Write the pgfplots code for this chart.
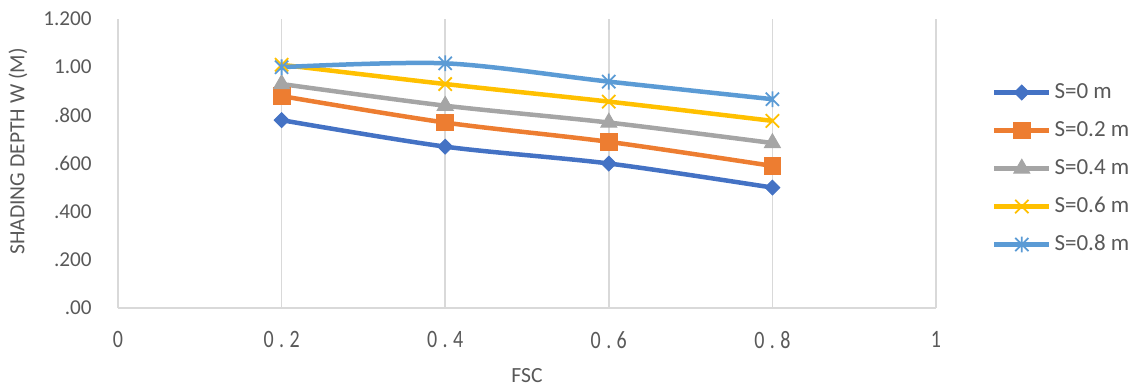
\documentclass[border=0pt]{standalone}
\usepackage{fontspec}
\setmainfont{Carlito}
\newfontfamily\condfont[FakeStretch=0.8]{Carlito}
\usepackage{pgfplots}
\pgfplotsset{compat=1.18}
\definecolor{txt}{HTML}{595959}
\definecolor{gridc}{HTML}{D9D9D9}
\definecolor{c1}{HTML}{4472C4}
\definecolor{c2}{HTML}{ED7D31}
\definecolor{c3}{HTML}{A5A5A5}
\definecolor{c4}{HTML}{FFC000}
\definecolor{c5}{HTML}{5B9BD5}
\pgfdeclareplotmark{xstar}{%
  \pgfpathmoveto{\pgfqpoint{-\pgfplotmarksize}{-\pgfplotmarksize}}%
  \pgfpathlineto{\pgfqpoint{\pgfplotmarksize}{\pgfplotmarksize}}%
  \pgfpathmoveto{\pgfqpoint{-\pgfplotmarksize}{\pgfplotmarksize}}%
  \pgfpathlineto{\pgfqpoint{\pgfplotmarksize}{-\pgfplotmarksize}}%
  \pgfpathmoveto{\pgfqpoint{0pt}{-1.2\pgfplotmarksize}}%
  \pgfpathlineto{\pgfqpoint{0pt}{1.2\pgfplotmarksize}}%
  \pgfusepathqstroke}
\begin{document}
\begin{tikzpicture}[x=1pt,y=1pt]
\begin{axis}[
  at={(0,0)}, anchor=south west,
  width=409pt, height=144.5pt, scale only axis,
  xmin=0, xmax=1, ymin=0, ymax=1.2,
  separate axis lines,
  axis x line*=bottom, axis y line*=left,
  x axis line style={draw=gridc, line width=0.75pt, -},
  y axis line style={draw=none},
  major tick length=0pt,
  xtick={0,0.2,0.4,0.6,0.8,1},
  xticklabels={0, 0\kern2.7pt.\kern2.7pt2, 0\kern2.7pt.\kern2.7pt4, 0\kern2.7pt.\kern2.7pt6, 0\kern2.7pt.\kern2.7pt8, 1},
  ytick={0,0.2,0.4,0.6,0.8,1,1.2},
  yticklabels={.00,.200,.400,.600,.800,1.00,1.200},
  xmajorgrids, ymajorgrids=false,
  grid style={draw=gridc, line width=0.75pt},
  xticklabel style={font=\condfont\fontsize{12.5}{14}\selectfont, text=txt, anchor=center, inner sep=0pt, yshift=-15.9pt},
  yticklabel style={font=\fontsize{10.6}{12}\selectfont, text=txt, anchor=east, inner sep=0pt, xshift=-13pt},
  xlabel={FSC},
  ylabel={SHADING DEPTH W (M)},
  xlabel style={font=\fontsize{10.8}{12}\selectfont, text=txt, at={(axis description cs:0.5,-0.2353)}, anchor=center, inner sep=0pt},
  ylabel style={font=\fontsize{10.8}{12}\selectfont, text=txt, at={(axis description cs:-0.1222,0.5415)}, anchor=center, inner sep=0pt},
  legend style={at={(axis description cs:1.0685,0.4827)}, anchor=west, draw=none, fill=none, inner sep=0pt, outer sep=0pt,
    font=\fontsize{11.5}{13}\selectfont, text=txt, row sep=8.5pt, column sep=1.5pt,
    nodes={inner sep=0pt, text height=8pt, text depth=2.5pt}},
  legend cell align=left,
  legend image code/.code={\draw[mark repeat=2,mark phase=2] plot coordinates {(0pt,0pt)(13.75pt,0pt)(27.5pt,0pt)};},
  every axis plot/.append style={line width=2.25pt, smooth, tension=0.5},
]
\addplot[c1, mark=square*, mark size=2.6pt, mark options={rotate=45, solid, line width=0.5pt, fill=c1}]
  coordinates {(0.2,0.78) (0.4,0.67) (0.6,0.60) (0.8,0.50)};
\addlegendentry{S=0 m}
\addplot[c2, mark=square*, mark size=4.2pt, mark options={solid, line width=0.5pt, fill=c2}]
  coordinates {(0.2,0.88) (0.4,0.77) (0.6,0.69) (0.8,0.59)};
\addlegendentry{S=0.2 m}
\addplot[c3, mark=triangle*, mark size=4.6pt, mark options={solid, line width=0.5pt, fill=c3}]
  coordinates {(0.2,0.93) (0.4,0.84) (0.6,0.77) (0.8,0.685)};
\addlegendentry{S=0.4 m}
\addplot[c4, mark=x, mark size=4.7pt, mark options={solid, line width=0.9pt}]
  coordinates {(0.2,1.01) (0.4,0.93) (0.6,0.857) (0.8,0.777)};
\addlegendentry{S=0.6 m}
\addplot[c5, mark=xstar, mark size=3.3pt, mark options={solid, line width=0.9pt}]
  coordinates {(0.2,1.00) (0.4,1.016) (0.6,0.94) (0.8,0.867)};
\addlegendentry{S=0.8 m}
\end{axis}
\pgfresetboundingbox
\path[use as bounding box] (-59,-39.5) rectangle (507.5,154);
\end{tikzpicture}
\end{document}
